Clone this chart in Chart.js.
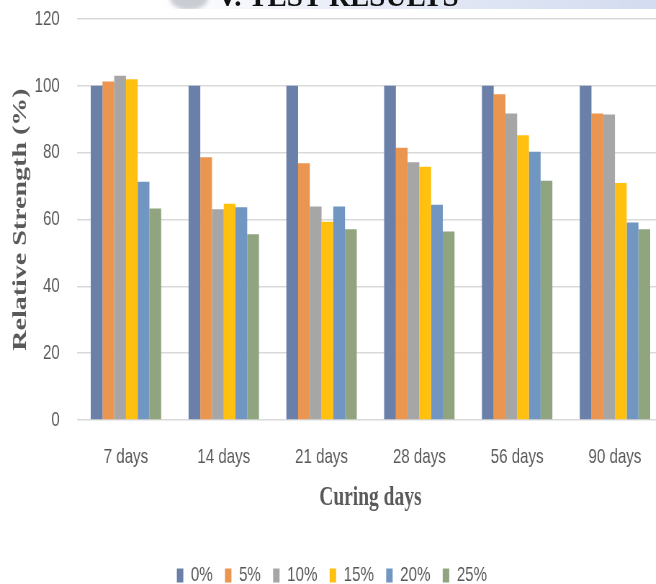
<!DOCTYPE html>
<html>
<head>
<meta charset="utf-8">
<script src="https://cdn.jsdelivr.net/npm/chart.js@4.4.1/dist/chart.umd.min.js"></script>
<style>
  html, body { margin: 0; padding: 0; background: #fff; overflow: hidden; }
  #clip { position: relative; width: 656px; height: 584px; overflow: hidden; }
  /* chart is drawn wide, then squeezed like the source picture */
  #stretch { position: absolute; left: 0; top: 0; width: 922px; height: 584px;
             transform: scaleX(0.72); transform-origin: 0 0; }
  #band { position: absolute; left: 160px; top: 0; width: 496px; height: 9px; overflow: hidden;
          background: linear-gradient(to right, rgba(214,222,240,0) 0%, rgba(214,222,240,0.6) 40%, #d3dcf0 100%); }
  #logo { position: absolute; left: 10px; top: -14px; width: 38px; height: 24px; border-radius: 50%;
          background: #c9ccd3; filter: blur(2px); }
  #band span { position: absolute; left: 57px; top: -20px; font: bold 29px "Liberation Serif", serif;
               color: #111; white-space: nowrap; }
</style>
</head>
<body>
<div id="clip">
  <div id="stretch"><canvas id="chart"></canvas></div>
  <div id="band"><div id="logo"></div><span>V. TEST RESULTS</span></div>
</div>
<script>
// curing ages on the x axis
const categories = ['7 days', '14 days', '21 days', '28 days', '56 days', '90 days'];
// replacement levels (legend)
const seriesNames = ['0%', '5%', '10%', '15%', '20%', '25%'];
const seriesColors = ['#6a80a9', '#ea9550', '#a6a6a6', '#ffc010', '#7196c1', '#8fa47f'];

// relative strength (%) per level
const rs0  = [100, 100, 100, 100, 100, 100];
const rs5  = [101.3, 78.6, 76.8, 81.5, 97.5, 91.7];
const rs10 = [103.0, 63.1, 63.9, 77.1, 91.7, 91.4];
const rs15 = [102.0, 64.7, 59.3, 75.8, 85.2, 70.9];
const rs20 = [71.3, 63.7, 63.9, 64.4, 80.3, 59.1];
const rs25 = [63.3, 55.6, 57.1, 56.4, 71.6, 57.1];
const seriesValues = [rs0, rs5, rs10, rs15, rs20, rs25];

// y axis ticks
const yMin = 0, yMax = 120, yStep = 20;

const grey = '#595959';

new Chart(document.getElementById('chart'), {
  type: 'bar',
  data: {
    labels: categories,
    datasets: seriesNames.map((name, i) => ({
      label: name,
      data: seriesValues[i],
      backgroundColor: seriesColors[i],
      borderWidth: 0,
      categoryPercentage: 0.72,
      barPercentage: 1.0
    }))
  },
  options: {
    responsive: true,
    maintainAspectRatio: false,
    animation: false,
    layout: { padding: { top: 19, right: 0, bottom: -12, left: 0 } },
    plugins: {
      tooltip: { enabled: false },
      legend: {
        position: 'bottom',
        labels: {
          color: grey,
          font: { family: 'Liberation Sans', size: 21 },
          boxWidth: 9,
          boxHeight: 14,
          padding: 17
        }
      }
    },
    scales: {
      x: {
        grid: { display: false, drawTicks: false },
        border: { display: false },
        ticks: { color: grey, font: { family: 'Liberation Sans', size: 21 }, padding: 25, maxRotation: 0 },
        title: {
          display: true,
          text: 'Curing days',
          color: grey,
          font: { family: 'Liberation Serif', size: 27, weight: 'bold' },
          padding: { top: 0, bottom: 34 }
        },
        afterFit: (scale) => { scale.height = 128; }
      },
      y: {
        min: yMin,
        max: yMax,
        grid: { color: '#d9d9d9', lineWidth: 1.6, drawTicks: false },
        border: { display: false },
        ticks: { stepSize: yStep, color: grey, font: { family: 'Liberation Sans', size: 21 }, padding: 24 },
        title: {
          display: true,
          text: 'Relative Strength (%)',
          color: grey,
          font: { family: 'Liberation Serif', size: 28, weight: 'bold' },
          padding: { top: 12, bottom: 0 }
        },
        afterFit: (scale) => {
          scale.width = 107;
          scale.paddingTop = 0;
          scale.paddingBottom = 0;
        }
      }
    }
  }
});
</script>
</body>
</html>
